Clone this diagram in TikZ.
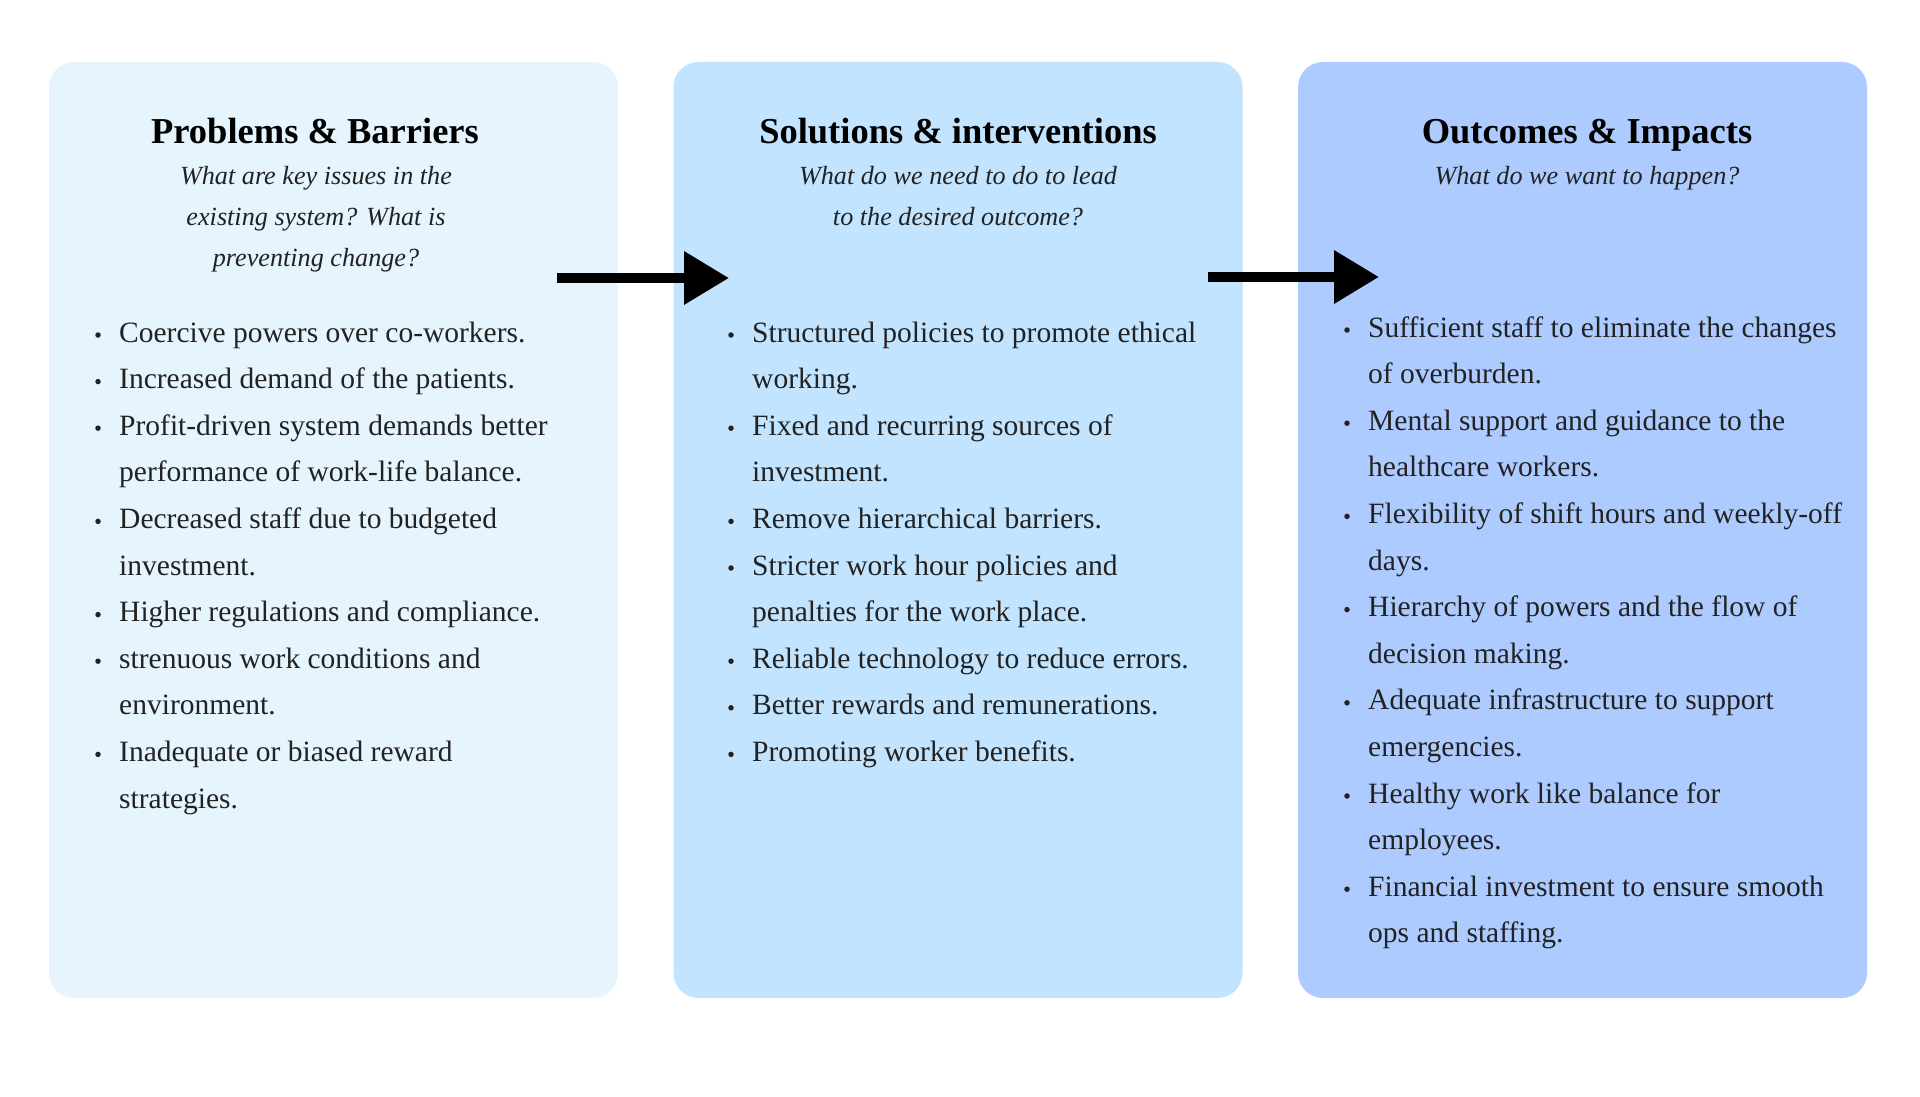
\documentclass[tikz,border=0pt]{standalone}
\usepackage{fontspec}
\setmainfont{Liberation Serif}
\usetikzlibrary{arrows.meta}
\definecolor{boxA}{HTML}{E6F4FE}
\definecolor{boxB}{HTML}{C2E4FE}
\definecolor{boxC}{HTML}{ADCBFE}
\definecolor{txt}{HTML}{222222}
\tikzset{
  panel/.style={rounded corners=25pt, inner sep=0pt, minimum width=569pt, minimum height=936pt, draw=none},
  ttl/.style={anchor=base, inner sep=0pt, font=\fontsize{36.5}{44}\selectfont\bfseries, text=black},
  sub/.style={anchor=base, inner sep=0pt, font=\fontsize{26.2}{41}\selectfont\itshape, text=txt},
  itm/.style={anchor=base west, inner sep=0pt, font=\fontsize{29.5}{46.6}\selectfont, text=txt},
  bul/.style={circle, fill=txt, inner sep=0pt, minimum size=5.5pt},
  flow/.style={line width=10pt, -{Triangle[length=45pt,width=51pt]}}
}
\begin{document}
\begin{tikzpicture}[x=1pt,y=-1pt]
\useasboundingbox[fill=white] (0,0) rectangle (1920,1097);
\node[panel, fill=boxA] (b1) at (333.5,530) {};
\node[panel, fill=boxB] (b2) at (958,530) {};
\node[panel, fill=boxC] (b3) at (1582.5,530) {};

\node[ttl] (t1) at (315,143) {Problems \& Barriers};
\node[ttl] (t2) at (958,143) {Solutions \& interventions};
\node[ttl] (t3) at (1587,143) {Outcomes \& Impacts};

\node[sub] (s11) at (316,184.5) {What are key issues in the};
\node[sub] (s12) at (316,225.5) {existing system? What is};
\node[sub] (s13) at (316,266.5) {preventing change?};
\node[sub] (s21) at (958,184.5) {What do we need to do to lead};
\node[sub] (s22) at (958,225.5) {to the desired outcome?};
\node[sub] (s31) at (1587,184.5) {What do we want to happen?};

\coordinate (a1s) at (557,278);
\coordinate (a1e) at (729,278);
\coordinate (a2s) at (1208,277);
\coordinate (a2e) at (1379,277);
\draw[flow] (a1s) -- (a1e);
\draw[flow] (a2s) -- (a2e);

\foreach \t/\b [count=\i] in {
  Coercive powers over co-workers./1,
  Increased demand of the patients./1,
  Profit-driven system demands better/1,
  performance of work-life balance./0,
  Decreased staff due to budgeted/1,
  investment./0,
  Higher regulations and compliance./1,
  strenuous work conditions and/1,
  environment./0,
  Inadequate or biased reward/1,
  strategies./0}{
  \node[itm] (l1-\i) at (119,{342+46.6*(\i-1)}) {\t};
  \ifnum\b=1 \node[bul] (d1-\i) at (98,{335+46.6*(\i-1)}) {};\fi
}
\foreach \t/\b [count=\i] in {
  Structured policies to promote ethical/1,
  working./0,
  Fixed and recurring sources of/1,
  investment./0,
  Remove hierarchical barriers./1,
  Stricter work hour policies and/1,
  penalties for the work place./0,
  Reliable technology to reduce errors./1,
  Better rewards and remunerations./1,
  Promoting worker benefits./1}{
  \node[itm] (l2-\i) at (752,{342+46.6*(\i-1)}) {\t};
  \ifnum\b=1 \node[bul] (d2-\i) at (731,{335+46.6*(\i-1)}) {};\fi
}
\foreach \t/\b [count=\i] in {
  Sufficient staff to eliminate the changes/1,
  of overburden./0,
  Mental support and guidance to the/1,
  healthcare workers./0,
  Flexibility of shift hours and weekly-off/1,
  days./0,
  Hierarchy of powers and the flow of/1,
  decision making./0,
  Adequate infrastructure to support/1,
  emergencies./0,
  Healthy work like balance for/1,
  employees./0,
  Financial investment to ensure smooth/1,
  ops and staffing./0}{
  \node[itm] (l3-\i) at (1368,{337+46.6*(\i-1)}) {\t};
  \ifnum\b=1 \node[bul] (d3-\i) at (1347,{330+46.6*(\i-1)}) {};\fi
}
\end{tikzpicture}
\end{document}
